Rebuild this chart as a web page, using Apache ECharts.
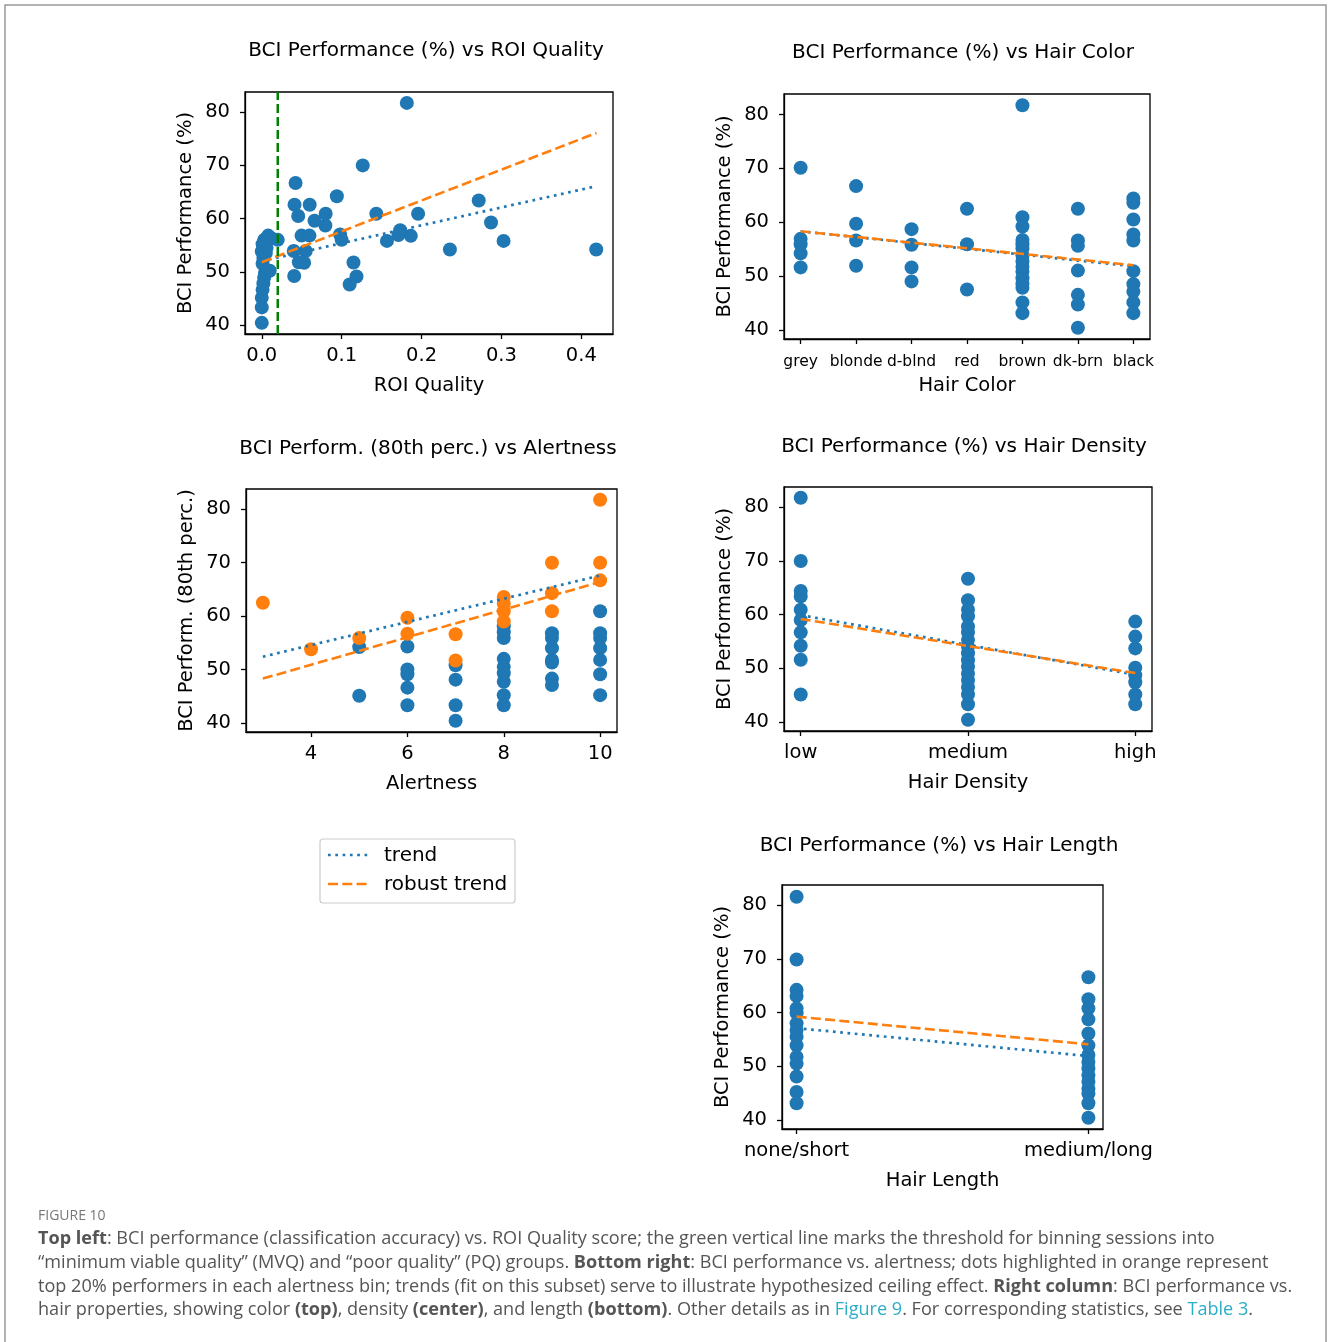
<!DOCTYPE html>
<html><head><meta charset="utf-8">
<script src="https://cdn.jsdelivr.net/npm/echarts@6/dist/echarts.min.js"></script>
<style>html,body{margin:0;padding:0;background:#fff}#c{width:1328px;height:1342px}</style>
</head><body><div id="c"></div><script>
// ---------- DATA ----------
const yTicks = [40, 50, 60, 70, 80];
const roiTicks = [0, 0.1, 0.2, 0.3, 0.4];
const roiX = [0.000,0.000,0.000,0.001,0.002,0.003,0.004,0.010,0.001,0.002,0.000,0.006,0.001,0.003,0.008,0.012,0.020,0.005,
  0.1816,0.1264,0.0423,0.041,0.0456,0.060,0.094,0.066,0.080,0.0796,0.1434,0.1957,0.2716,0.287,0.3027,0.2355,0.4187,
  0.1733,0.171,0.1866,0.1567,0.098,0.100,0.0498,0.0597,0.040,0.055,0.0464,0.053,0.0406,0.1148,0.1186,0.110];
const roiPerf = [40.4,43.3,45.1,46.6,47.8,48.9,49.8,50.2,51.5,52.6,53.8,54.5,55.2,56.0,56.8,56.3,56.0,53.5,
  81.75,70.0,66.7,62.6,60.5,62.6,64.2,59.6,60.9,58.7,60.9,60.9,63.4,59.25,55.8,54.2,54.2,
  57.8,56.9,56.75,55.8,57.0,56.0,56.8,56.8,53.9,53.9,51.8,51.7,49.2,51.75,49.1,47.6];
const roiThreshold = 0.02;
const roiTrend = [[0, 52.0], [0.419, 66.1]];
const roiRobust = [[0, 51.8], [0.419, 76.1]];

const hairColorCats = ['grey','blonde','d-blnd','red','brown','dk-brn','black'];
const hairColorPerf = [
  [70.1, 56.9, 55.9, 54.2, 51.6],
  [66.7, 59.7, 56.6, 51.9],
  [58.7, 55.8, 51.6, 49.0],
  [62.5, 55.9, 47.5],
  [81.7, 60.9, 59.2, 56.7, 55.9, 55.1, 53.8, 52.7, 51.7, 50.8, 49.6, 48.5, 47.8, 45.1, 43.1],
  [62.5, 56.6, 55.6, 51.0, 46.5, 44.7, 40.4],
  [64.4, 63.6, 60.5, 57.7, 56.6, 50.9, 48.5, 47.1, 45.1, 43.1]
];
const colorTrend = [[0, 58.3], [6, 51.8]];
const colorRobust = [[0, 58.3], [6, 52.0]];

const alertTicks = [4, 6, 8, 10];
const alertTopX = [3,4,5,6,6,7,7,8,8,8,8,9,9,9,10,10,10];
const alertTopPerf = [62.5,53.8,55.9,59.7,56.7,56.6,51.7,63.6,62.3,60.9,59.0,70.0,64.3,60.9,81.8,70.0,66.7];
const alertRestX = [5,5,6,6,6,6,6,7,7,7,7,8,8,8,8,8,8,8,8,8,9,9,9,9,9,9,9,10,10,10,10,10,10,10];
const alertRestPerf = [54.2,45.1,54.3,50.0,49.1,46.6,43.3,50.8,48.1,43.3,40.4,58.1,57.0,55.9,52.0,50.5,49.3,47.7,45.2,43.3,
  56.8,55.9,54.0,51.8,51.3,48.3,47.1,60.9,56.8,55.9,54.0,51.8,49.1,45.2];
const alertTrend = [[3, 52.4], [10, 67.6]];
const alertRobust = [[3, 48.3], [10, 66.4]];

const densityCats = ['low','medium','high'];
const densityPerf = [
  [81.8, 70.0, 64.4, 63.4, 60.9, 59.0, 56.7, 54.2, 51.6, 45.1],
  [66.7, 62.7, 60.9, 59.7, 57.8, 56.7, 55.3, 54.0, 52.8, 51.5, 50.3, 49.0, 47.8, 46.5, 45.1, 43.3, 40.4],
  [58.7, 55.9, 53.7, 50.1, 48.7, 47.4, 45.1, 43.3]
];
const densityTrend = [[0, 59.9], [2, 48.8]];
const densityRobust = [[0, 59.2], [2, 49.1]];

const lengthCats = ['none/short','medium/long'];
const lengthPerf = [
  [81.6, 69.9, 64.25, 63.1, 60.8, 59.9, 58.0, 56.75, 55.5, 53.9, 51.75, 50.5, 48.1, 45.2, 43.1],
  [66.6, 62.5, 60.8, 58.75, 56.1, 53.9, 52.1, 50.8, 49.6, 48.3, 47.1, 45.8, 44.9, 43.1, 40.4]
];
const lengthTrend = [[0, 57.1], [1, 51.9]];
const lengthRobust = [[0, 59.25], [1, 54.1]];

// ---------- STYLE ----------
const BLUE = '#1f77b4', ORANGE = '#ff7f0e', GREEN = '#008000';
const FONT = 'DejaVu Sans';
const FS = 19.5;
const Y_MIN = 38.3, Y_MAX = 83.8;

const grids = [
  {left: 245, top: 92, width: 368, height: 242},
  {left: 784, top: 94, width: 366, height: 245},
  {left: 246, top: 489, width: 371, height: 243},
  {left: 784, top: 487, width: 368, height: 244},
  {left: 782, top: 885, width: 321, height: 244}
].map(g => Object.assign({show: true, borderColor: '#000', borderWidth: 1.3, containLabel: false}, g));

function xAx(i, min, max, ticks, fmt, name, fs, gap, margin) {
  return {
    gridIndex: i, type: 'value', min, max, splitLine: {show: false},
    axisLine: {show: true, onZero: false, lineStyle: {color: '#000', width: 1.3}},
    axisTick: {show: true, length: 5, customValues: ticks, lineStyle: {color: '#000', width: 1.3}},
    axisLabel: {customValues: ticks, formatter: fmt, fontSize: fs || FS, color: '#000', fontFamily: FONT, margin: margin || 12},
    name, nameLocation: 'middle', nameGap: gap || 42,
    nameTextStyle: {fontSize: FS, color: '#000', fontFamily: FONT}
  };
}
function yAx(i, name) {
  return {
    gridIndex: i, type: 'value', min: Y_MIN, max: Y_MAX, splitLine: {show: false},
    axisLine: {show: true, onZero: false, lineStyle: {color: '#000', width: 1.3}},
    axisTick: {show: true, length: 5, customValues: yTicks, lineStyle: {color: '#000', width: 1.3}},
    axisLabel: {customValues: yTicks, fontSize: FS, color: '#000', fontFamily: FONT, margin: 15},
    name, nameLocation: 'middle', nameGap: 49, nameRotate: 90,
    nameTextStyle: {fontSize: FS, color: '#000', fontFamily: FONT}
  };
}
const catFmt = cats => (v => cats[Math.round(v)] || '');
const idx = n => Array.from({length: n}, (_, k) => k);

const xAxes = [
  xAx(0, -0.021, 0.4397, roiTicks, v => v.toFixed(1), 'ROI Quality'),
  xAx(1, -0.3, 6.3, idx(7), catFmt(hairColorCats), 'Hair Color', 15.5, 37, 15),
  xAx(2, 2.65, 10.35, alertTicks, v => String(v), 'Alertness'),
  xAx(3, -0.1, 2.1, idx(3), catFmt(densityCats), 'Hair Density'),
  xAx(4, -0.05, 1.05, idx(2), catFmt(lengthCats), 'Hair Length')
];
const yAxes = [
  yAx(0, 'BCI Performance (%)'),
  yAx(1, 'BCI Performance (%)'),
  yAx(2, 'BCI Perform. (80th perc.)'),
  yAx(3, 'BCI Performance (%)'),
  yAx(4, 'BCI Performance (%)')
];

function scatter(i, pts, color) {
  return {type: 'scatter', xAxisIndex: i, yAxisIndex: i, data: pts, symbolSize: 14,
    itemStyle: {color, opacity: 1}, z: 2, silent: true};
}
function line(i, pts, color, dash, w) {
  return {type: 'line', xAxisIndex: i, yAxisIndex: i, data: pts, symbol: 'none', z: 3, silent: true,
    lineStyle: {color, width: w || 2.6, type: dash, cap: 'butt'}};
}
const DOT = [2.7, 4.6], DASH = [10, 4.3];
const catPts = arr => arr.flatMap((vals, k) => vals.map(v => [k, v]));

const series = [
  scatter(0, roiX.map((x, k) => [x, roiPerf[k]]), BLUE),
  line(0, roiTrend, BLUE, DOT, 2.7),
  line(0, roiRobust, ORANGE, DASH),
  line(0, [[roiThreshold, Y_MIN], [roiThreshold, Y_MAX]], GREEN, [9, 4], 2.5),

  scatter(1, catPts(hairColorPerf), BLUE),
  line(1, colorTrend, BLUE, DOT, 2.7),
  line(1, colorRobust, ORANGE, DASH),

  scatter(2, alertRestX.map((x, k) => [x, alertRestPerf[k]]), BLUE),
  scatter(2, alertTopX.map((x, k) => [x, alertTopPerf[k]]), ORANGE),
  line(2, alertTrend, BLUE, DOT, 2.7),
  line(2, alertRobust, ORANGE, DASH),

  scatter(3, catPts(densityPerf), BLUE),
  line(3, densityTrend, BLUE, DOT, 2.7),
  line(3, densityRobust, ORANGE, DASH),

  scatter(4, catPts(lengthPerf), BLUE),
  line(4, lengthTrend, BLUE, DOT, 2.7),
  line(4, lengthRobust, ORANGE, DASH)
];

const titleTxt = (x, y, text) => ({type: 'text', x, y, silent: true,
  style: {text, fontSize: 20, fontFamily: FONT, fill: '#000', align: 'center', verticalAlign: 'middle'}});

const capFont = 'Open Sans';
const CFS = 18.1;
const capRich = {b: {fontWeight: 'bold', fontSize: CFS, fontFamily: capFont, fill: '#555', color: '#555'},
                 l: {fontSize: CFS, fontFamily: capFont, fill: '#2aaec6', color: '#2aaec6'}};
const capLine = (y, text) => ({type: 'text', x: 38, y, silent: true,
  style: {text, fontSize: CFS, fontFamily: capFont, fill: '#555', align: 'left', verticalAlign: 'middle', rich: capRich}});

const graphic = [
  {type: 'rect', shape: {x: 5, y: 5, width: 1321, height: 1350}, style: {fill: 'none', stroke: '#999', lineWidth: 1.5}, silent: true},
  titleTxt(426, 51, 'BCI Performance (%) vs ROI Quality'),
  titleTxt(963, 53, 'BCI Performance (%) vs Hair Color'),
  titleTxt(428, 449, 'BCI Perform. (80th perc.) vs Alertness'),
  titleTxt(964, 447, 'BCI Performance (%) vs Hair Density'),
  titleTxt(939, 846, 'BCI Performance (%) vs Hair Length'),
  // legend
  {type: 'rect', shape: {x: 320, y: 839, width: 195, height: 64, r: 3}, style: {fill: '#fff', stroke: '#ccc', lineWidth: 1.2}, silent: true},
  {type: 'line', shape: {x1: 328, y1: 855, x2: 368, y2: 855}, style: {stroke: BLUE, lineWidth: 2.7, lineDash: DOT}, silent: true},
  {type: 'line', shape: {x1: 328, y1: 884, x2: 368, y2: 884}, style: {stroke: ORANGE, lineWidth: 2.6, lineDash: DASH}, silent: true},
  {type: 'text', x: 384, y: 856, style: {text: 'trend', fontSize: 20, fontFamily: FONT, fill: '#000', verticalAlign: 'middle'}, silent: true},
  {type: 'text', x: 384, y: 885, style: {text: 'robust trend', fontSize: 20, fontFamily: FONT, fill: '#000', verticalAlign: 'middle'}, silent: true},
  // caption
  {type: 'text', x: 38, y: 1216, silent: true, style: {text: 'FIGURE 10', fontSize: 14, fontFamily: capFont, fill: '#777', verticalAlign: 'middle'}},
  capLine(1239, '{b|Top left}: BCI performance (classification accuracy) vs. ROI Quality score; the green vertical line marks the threshold for binning sessions into'),
  capLine(1263, '“minimum viable quality” (MVQ) and “poor quality” (PQ) groups. {b|Bottom right}: BCI performance vs. alertness; dots highlighted in orange represent'),
  capLine(1287, 'top 20% performers in each alertness bin; trends (fit on this subset) serve to illustrate hypothesized ceiling effect. {b|Right column}: BCI performance vs.'),
  capLine(1310, 'hair properties, showing color {b|(top)}, density {b|(center)}, and length {b|(bottom)}. Other details as in {l|Figure 9}. For corresponding statistics, see {l|Table 3}.')
];

const chart = echarts.init(document.getElementById('c'), null, {renderer: 'canvas'});
chart.setOption({
  animation: false, backgroundColor: '#fff',
  grid: grids, xAxis: xAxes, yAxis: yAxes, series, graphic
});
</script></body></html>
